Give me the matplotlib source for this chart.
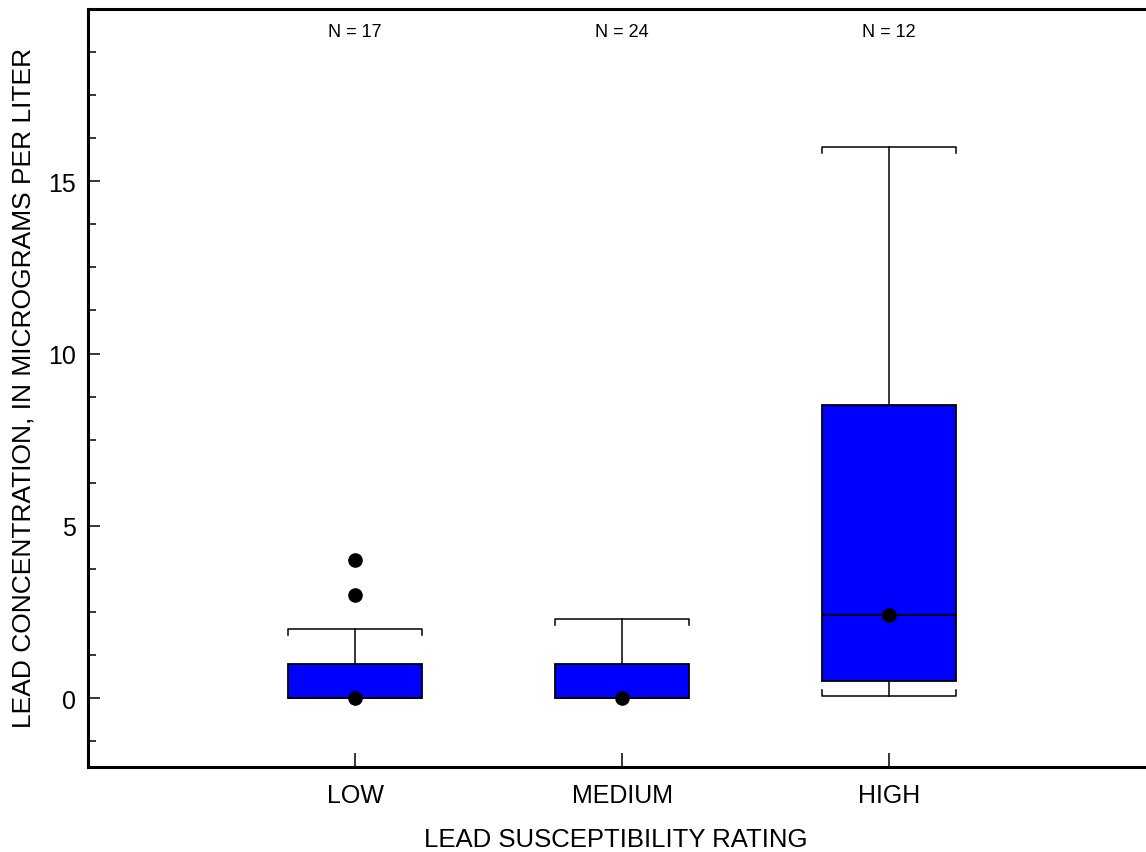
import matplotlib.pyplot as plt
from matplotlib.ticker import FixedLocator, MultipleLocator

# Box statistics
ratings = ['LOW', 'MEDIUM', 'HIGH']
counts = [17, 24, 12]
q1 = [0.0, 0.0, 0.5]
medians = [0.0, 0.0, 2.4]
q3 = [1.0, 1.0, 8.5]
whisker_low = [0.0, 0.0, 0.05]
whisker_high = [2.0, 2.3, 16.0]
outliers = [[3.0, 4.0], [], []]

plt.rcParams['font.family'] = ['Liberation Sans', 'DejaVu Sans']

fig = plt.figure(figsize=(11.46, 8.53), dpi=100)
# axes runs past the right edge of the figure like the original
ax = fig.add_axes([0.0768, 0.0997, 0.932, 0.8886])

positions = [1, 2, 3]
box_w = 0.5
stats = []
for i in range(len(ratings)):
    stats.append({'med': medians[i], 'q1': q1[i], 'q3': q3[i],
                  'whislo': whisker_low[i], 'whishi': whisker_high[i],
                  'fliers': outliers[i], 'label': ratings[i]})

ax.bxp(stats, positions=positions, widths=box_w, patch_artist=True,
       showcaps=False, showfliers=True,
       boxprops=dict(facecolor='#0000FF', edgecolor='black', linewidth=1.3),
       medianprops=dict(color='black', linewidth=1.3),
       whiskerprops=dict(color='black', linewidth=1.1),
       flierprops=dict(marker='o', markerfacecolor='black', markeredgecolor='black',
                       markersize=9.5))

# bracket-style caps and median dots
flick = 0.17
for i, p in enumerate(positions):
    xl, xr = p - box_w / 2, p + box_w / 2
    hi = whisker_high[i]
    ax.plot([xl, xl, xr, xr], [hi - flick, hi, hi, hi - flick], color='black', lw=1.1)
    lo = whisker_low[i]
    if lo < q1[i]:
        ax.plot([xl, xl, xr, xr], [lo + flick, lo, lo, lo + flick], color='black', lw=1.1)
    ax.plot(p, medians[i], 'o', color='black', markersize=9.5, zorder=5)
    ax.text(p, 19.23, f'N = {counts[i]}', ha='center', va='baseline', fontsize=13)

ax.set_xlim(0, 4)
ax.set_ylim(-2, 20)
ax.set_xticks(positions)
ax.set_xticklabels(ratings)
ax.yaxis.set_major_locator(FixedLocator([0, 5, 10, 15]))
ax.yaxis.set_minor_locator(MultipleLocator(1.25))

ax.tick_params(axis='y', which='major', direction='in', length=8.6, width=1.1,
               labelsize=18, pad=9)
ax.tick_params(axis='y', which='minor', direction='in', length=5.8, width=1.1)
ax.tick_params(axis='x', which='major', direction='in', length=10, width=1.1,
               labelsize=18, pad=11.5)

for side in ['top', 'left', 'bottom', 'right']:
    ax.spines[side].set_linewidth(2.2)

fig.text(24 / 1146, 1 - 388 / 853, 'LEAD CONCENTRATION, IN MICROGRAMS PER LITER',
         rotation=90, ha='center', va='center', fontsize=19)
fig.text(616 / 1146, 6 / 853, 'LEAD SUSCEPTIBILITY RATING',
         ha='center', va='baseline', fontsize=18.5)

fig.savefig('out.png', dpi=100)
